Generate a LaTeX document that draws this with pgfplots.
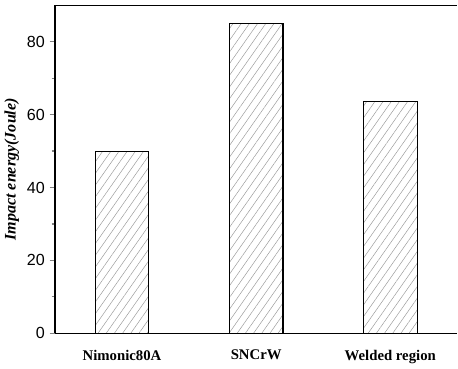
\documentclass[border=0pt]{standalone}
\usepackage{fontspec}
\setmainfont{Liberation Serif}
\setsansfont{Liberation Sans}
\usepackage{pgfplots}
\pgfplotsset{compat=1.18}
\usetikzlibrary{patterns.meta}
\begin{document}
\begin{tikzpicture}
\begin{axis}[
  scale only axis,
  width=300pt, height=244.5pt,
  xmin=-0.5, xmax=2.5,
  ymin=0, ymax=90,
  axis x line=box, axis y line=left,
  axis line style={line width=1pt, -},
  xtick=data,
  xticklabels={Nimonic80A, SNCrW, Welded region},
  xtick style={draw=none},
  x tick label style={font=\fontsize{11}{12}\selectfont\bfseries, yshift=-5pt},
  ytick={0,20,40,60,80},
  minor ytick={10,30,50,70},
  tick align=outside,
  major tick length=4pt, minor tick length=2.5pt,
  ytick style={line width=0.9pt},
  /pgf/number format/assume math mode=true,
  y tick label style={font=\fontsize{12}{13}\selectfont\sffamily},
  ylabel={\bfseries\itshape Impact energy(Joule)},
  ylabel style={font=\fontsize{12}{13}\selectfont, yshift=-1pt},
  ybar, bar width=0.4,
]
\addplot[draw=black, line width=0.8pt, fill=white,
  postaction={pattern={Lines[angle=55,distance=5pt,line width=0.35pt]}, pattern color=black!40}]
  coordinates {(0,50) (1,85) (2,63.5)};
\end{axis}
\end{tikzpicture}
\end{document}
